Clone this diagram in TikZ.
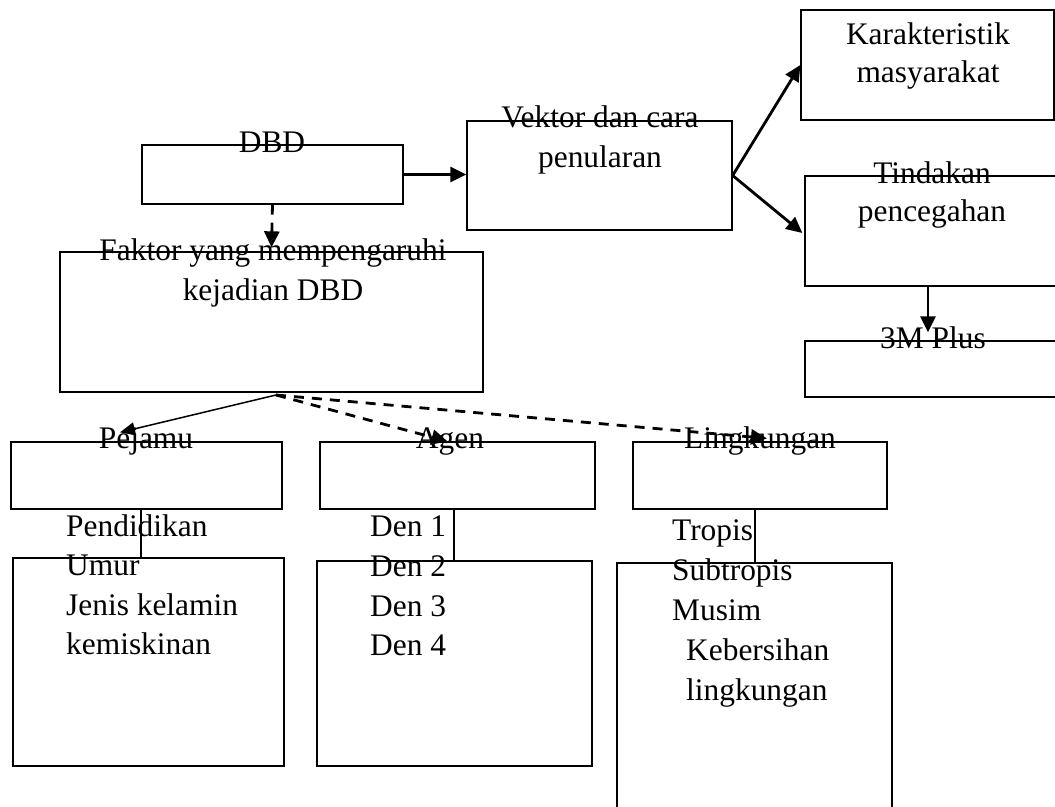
\documentclass[tikz,border=0pt]{standalone}
\usepackage{fontspec}
\setmainfont{Liberation Serif}
\usetikzlibrary{arrows.meta}
\begin{document}
\begin{tikzpicture}[x=1pt,y=-1pt,
  box/.style={draw, line width=1.3pt, inner sep=0pt, rectangle},
  lbl/.style={anchor=base, inner sep=0pt, font=\fontsize{31.4}{40}\selectfont},
  item/.style={anchor=base west, inner sep=0pt, font=\fontsize{31.4}{40}\selectfont},
  arr/.style={line width=2.8pt, -{Triangle[length=16pt,width=15pt]}},
  darr/.style={arr, dash pattern=on 10pt off 8pt},
  tarr/.style={line width=1.5pt, -{Triangle[length=15pt,width=13pt]}},
  conn/.style={line width=1.3pt}]
\useasboundingbox (0,0) rectangle (1055,806);

% boxes
\node[box, minimum width=261pt, minimum height=59pt] (dbd) at (272.5,174.5) {};
\node[box, minimum width=265pt, minimum height=109pt] (vek) at (599.5,175.5) {};
\node[box, minimum width=253pt, minimum height=110pt] (kar) at (927.5,65) {};
\node[box, minimum width=253pt, minimum height=110pt] (tin) at (931.5,231) {};
\node[box, minimum width=253pt, minimum height=56pt] (tmp) at (931.5,369) {};
\node[box, minimum width=423pt, minimum height=140pt] (fak) at (271.5,322) {};
\node[box, minimum width=271pt, minimum height=67pt] (pjt) at (146.5,475.5) {};
\node[box, minimum width=275pt, minimum height=67pt] (agt) at (457.5,475.5) {};
\node[box, minimum width=254pt, minimum height=67pt] (lgt) at (760,475.5) {};
\node[box, minimum width=271pt, minimum height=208pt] (pjl) at (148.5,662) {};
\node[box, minimum width=275pt, minimum height=205pt] (agl) at (454.5,663.5) {};
\node[box, minimum width=275pt, minimum height=277pt] (lgl) at (754.5,701.5) {};

% titles
\node[lbl] (tdbd) at (272,152) {DBD};
\node[lbl] (tvek1) at (600,127) {Vektor dan cara};
\node[lbl] (tvek2) at (600,167) {penularan};
\node[lbl] (tkar1) at (928,44) {Karakteristik};
\node[lbl] (tkar2) at (928,82) {masyarakat};
\node[lbl] (ttin1) at (932,183) {Tindakan};
\node[lbl] (ttin2) at (932,221) {pencegahan};
\node[lbl] (ttmp) at (933,348) {3M Plus};
\node[lbl] (tfak1) at (273,260) {Faktor yang mempengaruhi};
\node[lbl] (tfak2) at (273,300) {kejadian DBD};
\node[lbl] (tpj) at (146,448) {Pejamu};
\node[lbl] (tag) at (450,448) {Agen};
\node[lbl] (tlg) at (760,448) {Lingkungan};

% lists
\node[item] (p1) at (66,536) {Pendidikan};
\node[item] (p2) at (66,575) {Umur};
\node[item] (p3) at (66,615) {Jenis kelamin};
\node[item] (p4) at (66,654) {kemiskinan};
\node[item] (a1) at (370,536) {Den 1};
\node[item] (a2) at (370,576) {Den 2};
\node[item] (a3) at (370,616) {Den 3};
\node[item] (a4) at (370,655) {Den 4};
\node[item] (l1) at (672,540) {Tropis};
\node[item] (l2) at (672,580) {Subtropis};
\node[item] (l3) at (672,620) {Musim};
\node[item] (l4) at (686,660) {Kebersihan};
\node[item] (l5) at (686,700) {lingkungan};

% connectors
\draw[arr] (dbd.east) -- (dbd.east -| vek.west);
\draw[darr] (dbd.south) -- ([yshift=4pt]fak.north);
\draw[arr] (vek.east) -- (kar.west);
\draw[arr] (vek.east) -- ([xshift=-2pt,yshift=-2pt]tin.west);
\draw[arr] ([xshift=-3.5pt]tin.south) -- ([xshift=-3.5pt,yshift=8pt]tmp.north);

\coordinate (fk) at (276,395);
\draw[tarr] (fk) -- ([xshift=-26.5pt,yshift=9pt]pjt.north);
\draw[darr] (fk) -- ([xshift=-10pt]agt.north);
\draw[darr] (fk) -- ([xshift=7pt,yshift=3pt]lgt.north);

\draw[conn] ([xshift=-5.5pt]pjt.south) -- ([xshift=-7.5pt]pjl.north);
\draw[conn] ([xshift=-3.5pt]agt.south) -- ([xshift=-0.5pt]agl.north);
\draw[conn] ([xshift=-5pt]lgt.south) -- ([xshift=0.5pt]lgl.north);
\end{tikzpicture}
\end{document}
